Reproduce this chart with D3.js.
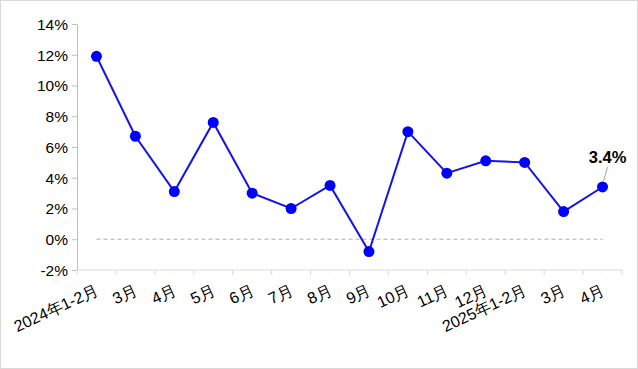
<!DOCTYPE html>
<html><head><meta charset="utf-8">
<script src="https://cdn.jsdelivr.net/npm/d3@7"></script>
<style>body{margin:0;background:#fff}svg{display:block}</style>
</head><body>
<svg id="c" width="638" height="369"></svg>
<script>
const categories = ["2024年1-2月","3月","4月","5月","6月","7月","8月","9月","10月","11月","12月","2025年1-2月","3月","4月"];
const values = [11.9, 6.7, 3.1, 7.6, 3.0, 2.0, 3.5, -0.8, 7.0, 4.3, 5.1, 5.0, 1.8, 3.4];
const yTicks = [-2, 0, 2, 4, 6, 8, 10, 12, 14];
const lastLabel = "3.4%";

const svg = d3.select("#c");
const W = 638, H = 369;
const m = {l: 77, r: 16, t: 24, b: 99};
svg.append("rect").attr("x",0.5).attr("y",0.5).attr("width",W-1).attr("height",H-1)
  .attr("fill","#fff").attr("stroke","#d9d9d9");

const x = d3.scaleBand().domain(d3.range(categories.length)).range([m.l, W - m.r]);
const y = d3.scaleLinear().domain([-2, 14]).range([H - m.b, m.t]);
const font = "'Liberation Sans', Arial, sans-serif";

// y axis
const ya = svg.append("g").attr("transform", `translate(${m.l},0)`)
  .call(d3.axisLeft(y).tickValues(yTicks).tickFormat(d => d + "%").tickSize(5).tickSizeOuter(0));
ya.select(".domain").attr("stroke", "#bfbfbf");
ya.selectAll(".tick line").attr("stroke", "#bfbfbf");
ya.selectAll("text").attr("font-family", font).attr("font-size", 15.5).attr("fill", "#000").attr("x", -9).attr("dy","0.35em");

// x axis
const xa = svg.append("g").attr("transform", `translate(0,${H - m.b})`);
xa.append("line").attr("x1", m.l).attr("x2", W - m.r).attr("stroke", "#d9d9d9");
const edges = d3.range(categories.length + 1).map(i => m.l + i * x.step());
xa.selectAll("line.t").data(edges).join("line").attr("class","t")
  .attr("x1", d => d).attr("x2", d => d).attr("y1", 0).attr("y2", 5).attr("stroke", "#d9d9d9");
xa.selectAll("text").data(categories).join("text")
  .attr("font-family", font).attr("font-size", 16).attr("fill", "#000")
  .attr("text-anchor", "end")
  .attr("transform", (d, i) => `translate(${x(i) + x.bandwidth()/2 + 3},${24}) rotate(-25)`)
  .text(d => d);

// zero line
svg.append("line").attr("x1", x(0) + x.bandwidth()/2).attr("x2", x(categories.length-1) + x.bandwidth()/2)
  .attr("y1", y(0)).attr("y2", y(0)).attr("stroke", "#b3b3b3").attr("stroke-dasharray", "4,3").attr("stroke-width", 1.2);

const cx = i => x(i) + x.bandwidth()/2;
svg.append("path").datum(values)
  .attr("d", d3.line().x((d,i) => cx(i)).y(d => y(d)))
  .attr("fill","none").attr("stroke","#1414e6").attr("stroke-width",2);
svg.selectAll("circle.p").data(values).join("circle").attr("class","p")
  .attr("cx", (d,i) => cx(i)).attr("cy", d => y(d)).attr("r", 5.5).attr("fill", "#0000ff");

// label
const li = values.length - 1;
svg.append("line").attr("x1", cx(li)+1).attr("y1", y(values[li]) - 6).attr("x2", cx(li)+5).attr("y2", y(values[li]) - 20)
  .attr("stroke", "#a6a6a6");
svg.append("text").attr("x", cx(li) + 5).attr("y", y(values[li]) - 24).attr("text-anchor","middle")
  .attr("font-family", font).attr("font-size", 16.5).attr("font-weight","bold").text(lastLabel);
</script>
</body></html>
